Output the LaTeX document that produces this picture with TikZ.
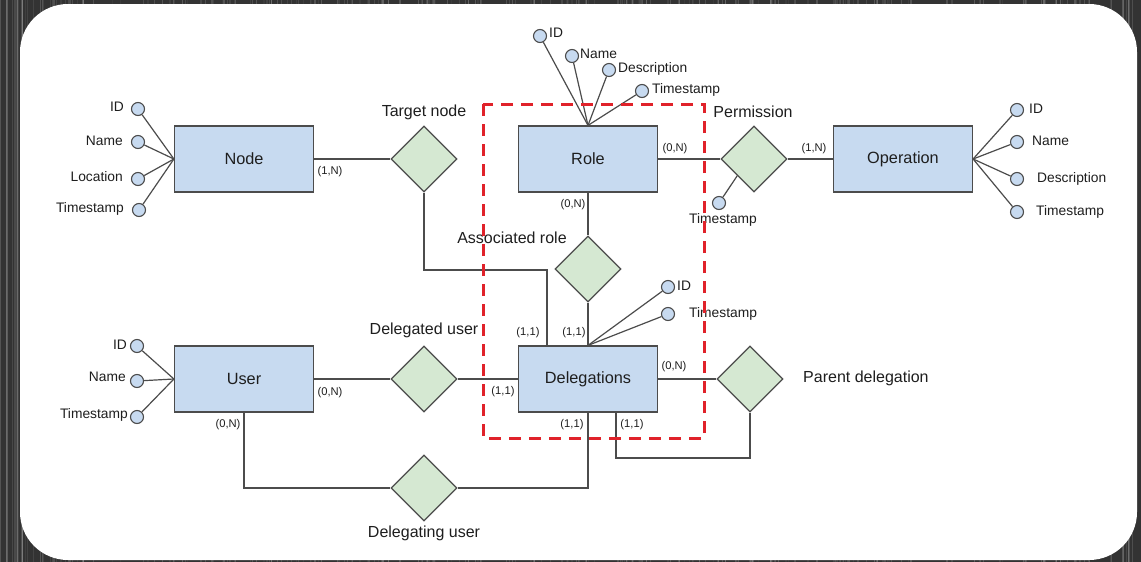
\documentclass[tikz,border=0pt]{standalone}
\usepackage{fontspec}
\setmainfont{Liberation Sans}
\usetikzlibrary{shapes.geometric}

\definecolor{entfill}{HTML}{C7DAF0}
\definecolor{relfill}{HTML}{D5E8D2}
\definecolor{edge}{HTML}{4C4C4C}
\definecolor{ink}{HTML}{1E1E1E}
\definecolor{frame}{HTML}{333333}
\definecolor{dashred}{HTML}{E0222A}

\begin{document}
\begin{tikzpicture}[x=1pt,y=-1pt,
  entity/.style={rectangle, draw=edge, fill=entfill, line width=1.2pt,
    minimum width=139pt, minimum height=66pt, inner sep=0pt,
    font=\fontsize{16.3}{19}\selectfont, text=ink},
  rel/.style={diamond, draw=edge, fill=relfill, line width=1.2pt,
    minimum width=66pt, minimum height=66pt, inner sep=0pt},
  attr/.style={circle, draw=edge, fill=entfill, line width=1.1pt,
    minimum size=13pt, inner sep=0pt},
  attrtext/.style={font=\fontsize{13.8}{16}\selectfont, text=ink, inner sep=0pt},
  reltext/.style={font=\fontsize{16}{19}\selectfont, text=ink, inner sep=0pt},
  card/.style={font=\fontsize{11.2}{13}\selectfont, text=ink, inner sep=0pt},
  link/.style={draw=edge, line width=1.2pt},
  group/.style={draw=dashred, line width=3pt, dash pattern=on 12pt off 8pt}]

\useasboundingbox (0,0) rectangle (1141,562);

% dark grained frame and white sheet
\fill[frame] (0,0) rectangle (1141,562);
\pgfmathsetseed{11}
\foreach \i in {0,...,260} {
  \pgfmathsetmacro{\xx}{1141*rnd}
  \pgfmathsetmacro{\op}{0.04+0.14*rnd}
  \pgfmathsetmacro{\lw}{0.4+1.6*rnd}
  \draw[white, opacity=\op, line width=\lw pt] (\xx,0) -- (\xx,562);
}
\fill[white, rounded corners=48pt] (20,4) rectangle (1137,560);

% entities
\node[entity] (node) at (244,159) {Node};
\node[entity] (role) at (588,159) {Role};
\node[entity] (op)   at (903,159) {Operation};
\node[entity] (user) at (244,379) {User};
\node[entity] (del)  at (588,379) {Delegations};

% relationships
\node[rel] (tn)   at (424,159) {};
\node[rel] (perm) at (754,159) {};
\node[rel] (ar)   at (588,269) {};
\node[rel] (du)   at (424,379) {};
\node[rel] (dgu)  at (424,488) {};
\node[rel] (pd)   at (750,379) {};

\node[reltext] (tnl)   at (424,112) {Target node};
\node[reltext] (perml) at (753,112) {Permission};
\node[reltext] (arl)   at (512,238) {Associated role};
\node[reltext] (dul)   at (424,330) {Delegated user};
\node[reltext] (dgul)  at (424,533) {Delegating user};
\node[reltext, anchor=west] (pdl) at (803,378) {Parent delegation};

% attributes of Node
\node[attr] (n1) at (138,109) {};
\node[attr] (n2) at (138,142) {};
\node[attr] (n3) at (138,179) {};
\node[attr] (n4) at (139,210) {};
\node[attrtext, anchor=east] (n1l) at (124,107) {ID};
\node[attrtext, anchor=east] (n2l) at (123,141) {Name};
\node[attrtext, anchor=east] (n3l) at (123,177) {Location};
\node[attrtext, anchor=east] (n4l) at (124,209) {Timestamp};
\foreach \a in {n1,n2,n3,n4} \draw[link] (\a) -- (node.west);

% attributes of User
\node[attr] (u1) at (137,346) {};
\node[attr] (u2) at (137,381) {};
\node[attr] (u3) at (137,417) {};
\node[attrtext, anchor=east] (u1l) at (127,345) {ID};
\node[attrtext, anchor=east] (u2l) at (126,377) {Name};
\node[attrtext, anchor=east] (u3l) at (128,415) {Timestamp};
\foreach \a in {u1,u2,u3} \draw[link] (\a) -- (user.west);

% attributes of Role
\node[attr] (r1) at (540,36) {};
\node[attr] (r2) at (572,56) {};
\node[attr] (r3) at (609,70) {};
\node[attr] (r4) at (642,91) {};
\node[attrtext, anchor=west] (r1l) at (549,33) {ID};
\node[attrtext, anchor=west] (r2l) at (580,54) {Name};
\node[attrtext, anchor=west] (r3l) at (618,69) {Description};
\node[attrtext, anchor=west] (r4l) at (652,90) {Timestamp};
\foreach \a in {r1,r2,r3,r4} \draw[link] (\a) -- (role.north);

% attributes of Operation
\node[attr] (o1) at (1017,110) {};
\node[attr] (o2) at (1017,142) {};
\node[attr] (o3) at (1017,179) {};
\node[attr] (o4) at (1017,212) {};
\node[attrtext, anchor=west] (o1l) at (1029,109) {ID};
\node[attrtext, anchor=west] (o2l) at (1032,141) {Name};
\node[attrtext, anchor=west] (o3l) at (1037,179) {Description};
\node[attrtext, anchor=west] (o4l) at (1036,212) {Timestamp};
\foreach \a in {o1,o2,o3,o4} \draw[link] (\a) -- (op.east);

% attributes of Delegations
\node[attr] (d1) at (668,287) {};
\node[attr] (d2) at (668,314) {};
\node[attrtext, anchor=west] (d1l) at (677,286) {ID};
\node[attrtext, anchor=west] (d2l) at (689,314) {Timestamp};
\foreach \a in {d1,d2} \draw[link] (\a) -- (del.north);

% attribute of Permission
\node[attr] (p1) at (719,203) {};
\node[attrtext] (p1l) at (723,220) {Timestamp};
\draw[link] (p1) -- (perm.south west);

% connectors
\coordinate (tnbend) at (547,270);
\coordinate (pdbend) at (616,458);
\draw[link] (node.east) -- (tn.west);
\draw[link] (tn.south) |- (tnbend) -- (tnbend |- del.north);
\draw[link] (role.east) -- (perm.west);
\draw[link] (perm.east) -- (op.west);
\draw[link] (role.south) -- (ar.north);
\draw[link] (ar.south) -- (del.north);
\draw[link] (user.east) -- (du.west);
\draw[link] (du.east) -- (del.west);
\draw[link] (user.south) |- (dgu.west);
\draw[link] (dgu.east) -| (del.south);
\draw[link] (del.east) -- (pd.west);
\draw[link] (pd.south) |- (pdbend) -- (pdbend |- del.south);

% cardinalities
\node[card] (c1)  at (330,172) {(1,N)};
\node[card] (c2)  at (675,149) {(0,N)};
\node[card] (c3)  at (814,149) {(1,N)};
\node[card] (c4)  at (573,205) {(0,N)};
\node[card] (c5)  at (528,333) {(1,1)};
\node[card] (c6)  at (574,333) {(1,1)};
\node[card] (c7)  at (330,393) {(0,N)};
\node[card] (c8)  at (228,425) {(0,N)};
\node[card] (c9)  at (503,392) {(1,1)};
\node[card] (c10) at (674,367) {(0,N)};
\node[card] (c11) at (572,425) {(1,1)};
\node[card] (c12) at (632,425) {(1,1)};

% dashed group around Role and Delegations
\draw[group] (483,104) rectangle (704,438);

\end{tikzpicture}
\end{document}
